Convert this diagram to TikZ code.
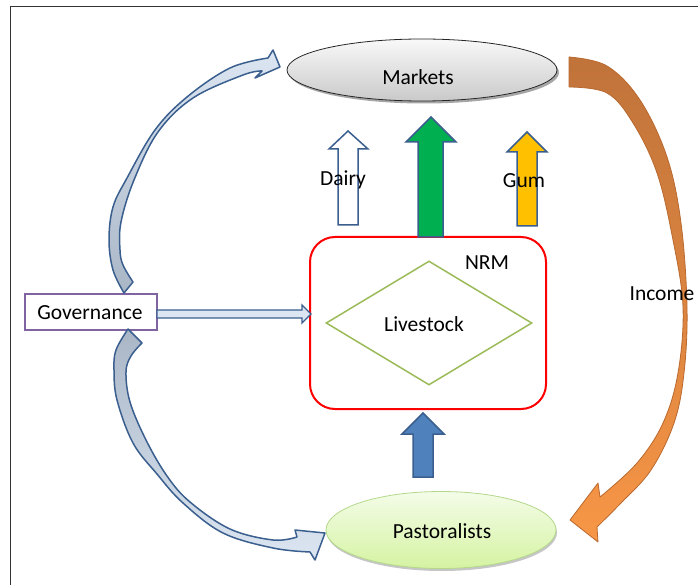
\documentclass[tikz,border=0pt]{standalone}
\usepackage{fontspec}
\setmainfont{Carlito}
\usetikzlibrary{shapes.geometric}
\definecolor{edgeblue}{HTML}{3A5F8F}
\definecolor{lightblue}{HTML}{DCE6F2}
\definecolor{grayblue}{HTML}{A9B6C6}
\definecolor{arrgreen}{HTML}{00B050}
\definecolor{arrgold}{HTML}{FFC000}
\definecolor{arrblue}{HTML}{4F81BD}
\definecolor{incbrown}{HTML}{C0733A}
\definecolor{incorange}{HTML}{F79646}
\definecolor{incedge}{HTML}{B9692F}
\definecolor{govpurple}{HTML}{8064A2}
\definecolor{livegreen}{HTML}{9BBB59}
\definecolor{pastop}{HTML}{F4FCE8}
\definecolor{pasbot}{HTML}{D5F3A2}
\definecolor{pasedge}{HTML}{B4D88A}
\tikzset{
  lbl/.style={font=\fontsize{21.5}{26}\selectfont, inner sep=0pt},
  blockedge/.style={draw=edgeblue, line width=1.5pt, line join=miter},
  ribbon/.style={draw=edgeblue, line width=1.5pt, line join=round},
}
\begin{document}
\begin{tikzpicture}[x=1pt,y=-1pt]
\useasboundingbox (0,0) rectangle (698,585);
% frame
\draw[black!80, line width=1.5pt] (10.5,585) -- (10.5,6.5) -- (698,6.5);

% Markets
\fill[gray!70] (424,72.5) ellipse [x radius=135, y radius=31];
\node[ellipse, draw=black!85, line width=0.8pt, top color=gray!5, bottom color=gray!42,
      minimum width=270, minimum height=62, inner sep=0pt] (mk) at (422,70) {};
\node[lbl] (mktext) at (418,77) {Markets};

% Pastoralists
\fill[gray!45] (442,532.5) ellipse [x radius=115, y radius=38.5];
\node[ellipse, draw=pasedge, line width=0.8pt, top color=pastop, bottom color=pasbot,
      minimum width=230, minimum height=77, inner sep=0pt] (pas) at (441,530) {};
\node[lbl] (pastext) at (442,531) {Pastoralists};

% NRM box and Livestock diamond
\node[draw=red, line width=2pt, rounded corners=25pt, minimum width=236, minimum height=172,
      inner sep=0pt] (nrm) at (428,323) {};
\node[lbl] (nrmtext) at (487,263) {NRM};
\node[diamond, draw=livegreen, line width=1.5pt, minimum width=206, minimum height=124,
      inner sep=0pt] (live) at (429,323) {};
\node[lbl] (livetext) at (424,324) {Livestock};

% Governance
\node[draw=govpurple, line width=1.5pt, fill=white, minimum width=132, minimum height=36,
      inner sep=0pt] (gov) at (91,312) {};
\node[lbl] (govtext) at (90,313) {Governance};

% straight block arrows
\draw[blockedge, fill=white] (338,225) -- (338,149) -- (329,149) -- (348,131) -- (368,149) -- (358,149) -- (358,225) -- cycle;
\draw[blockedge, fill=arrgreen] (418,237) -- (418,142) -- (406,142) -- (431,117) -- (456,142) -- (443,142) -- (443,237) -- cycle;
\draw[blockedge, fill=arrgold] (517,226) -- (517,152) -- (507,152) -- (527,132) -- (547,152) -- (537,152) -- (537,226) -- cycle;
\draw[blockedge, fill=arrblue] (413,477) -- (413,434) -- (402,434) -- (423,413) -- (444,434) -- (433,434) -- (433,477) -- cycle;
\draw[blockedge, line width=1.3pt, fill=lightblue] (157,310) -- (302,310) -- (302,305) -- (311,314) -- (302,323) -- (302,318) -- (157,318) -- cycle;

\node[lbl] (dairy) at (343,180) {Dairy};
\node[lbl] (gum) at (524,181) {Gum};

% Governance -> Markets curved arrow
\path[ribbon, top color=lightblue, bottom color=grayblue]
  (124,293) -- plot[smooth, tension=0.6] coordinates {(124,293) (113,270) (109,240) (113,207) (127,178) (155,130) (187,97) (230,68) (268,58)}
  -- (273,50) -- (280,67) -- (255,78) -- (262,71)
  -- plot[smooth, tension=0.6] coordinates {(262,71) (243,75) (193,98) (158,132) (134,180) (121,222) (120,250) (123,265) (133,282)}
  -- cycle;

% Governance -> Pastoralists curved arrow
\path[ribbon, top color=grayblue, bottom color=lightblue]
  (128,329) -- plot[smooth, tension=0.6] coordinates {(128,329) (116,350) (114,370) (117,400) (133,443) (157,474) (183,503) (223,533) (273,548) (310,552)}
  -- (315,560) -- (325,533) -- (295,530) -- (297,537)
  -- plot[smooth, tension=0.6] coordinates {(297,537) (273,540) (230,529) (190,502) (167,476) (146,440) (130,402) (126,372) (131,356) (142,343)}
  -- cycle;

% Income curved arrow
\path[draw=incedge, line width=0.8pt, line join=round, top color=incbrown, bottom color=incorange]
  (569,57) -- plot[smooth, tension=0.6] coordinates {(569,57) (607,66) (640,100) (667,157) (681,223) (687,307) (684,373) (674,423) (651,470) (621,503) (597,527)}
  -- (598,542) -- (570,520) -- (598,483) -- (600,497)
  -- plot[smooth, tension=0.6] coordinates {(600,497) (637,463) (663,423) (678,373) (683,307) (673,240) (657,173) (633,123) (607,93) (569,87)}
  -- cycle;
\node[lbl] (income) at (662,294) {Income};
\end{tikzpicture}
\end{document}
